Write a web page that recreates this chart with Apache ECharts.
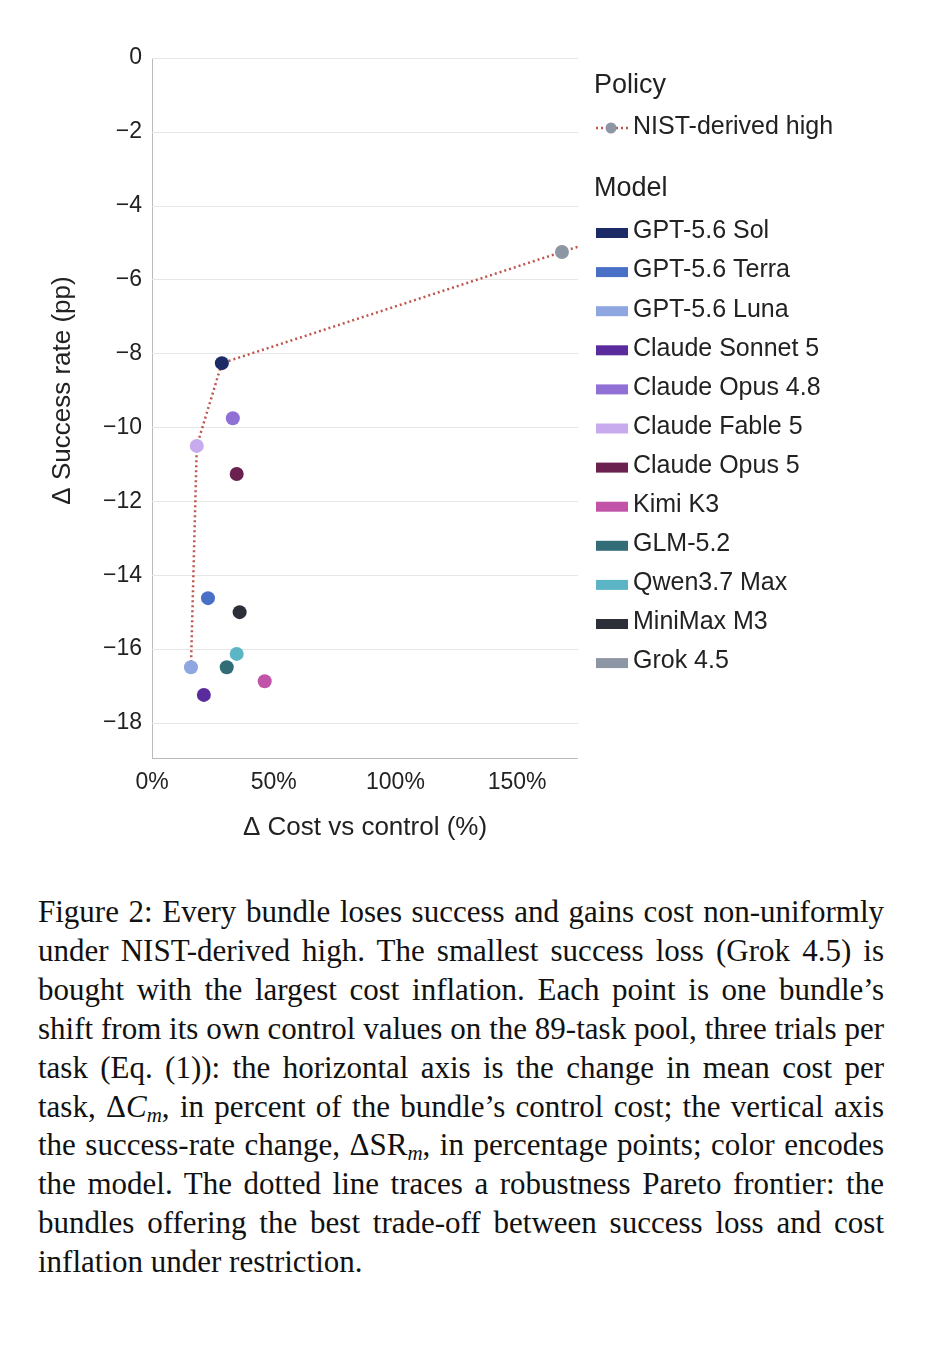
<!DOCTYPE html>
<html><head><meta charset="utf-8">
<script src="https://cdn.jsdelivr.net/npm/echarts@6/dist/echarts.min.js"></script>
<style>
body{margin:0;background:#fff;width:926px;height:1356px;position:relative;overflow:hidden}
#c{position:absolute;left:0;top:0;width:926px;height:870px}
#cap{position:absolute;left:38px;top:893px;width:846px;font-family:"Liberation Serif","DejaVu Serif",serif;font-size:31px;line-height:38.9px;text-align:justify;color:#111}
#cap sub{font-size:21px;line-height:0;vertical-align:-5px}
</style></head><body>
<div id="c"></div>
<div id="cap">Figure 2: Every bundle loses success and gains cost non-uniformly under NIST-derived high. The smallest success loss (Grok 4.5) is bought with the largest cost inflation. Each point is one bundle’s shift from its own control values on the 89-task pool, three trials per task (Eq. (1)): the horizontal axis is the change in mean cost per task, Δ<i>C<sub>m</sub></i>, in percent of the bundle’s control cost; the vertical axis the success-rate change, ΔSR<sub><i>m</i></sub>, in percentage points; color encodes the model. The dotted line traces a robustness Pareto frontier: the bundles offering the best trade-off between success loss and cost inflation under restriction.</div>
<script>
const models = ["GPT-5.6 Sol","GPT-5.6 Terra","GPT-5.6 Luna","Claude Sonnet 5","Claude Opus 4.8","Claude Fable 5","Claude Opus 5","Kimi K3","GLM-5.2","Qwen3.7 Max","MiniMax M3","Grok 4.5"];
const colors = ["#1c2a66","#4a6fc7","#8ea7e0","#5a2b9c","#9170d6","#c8abee","#6a2150","#c154a8","#326c76","#5cb5c4","#2c2f37","#8d96a4"];
const costPct = [28.7,23.0,16.0,21.3,33.2,18.4,34.8,46.3,30.7,34.8,36.0,168.4];
const successPP = [-8.26,-14.62,-16.49,-17.24,-9.75,-10.5,-11.26,-16.87,-16.49,-16.13,-15.0,-5.25];
const frontier = ["GPT-5.6 Luna","Claude Fable 5","GPT-5.6 Sol","Grok 4.5"];
const xMax = 175;

const fr = frontier.map(n=>{const i=models.indexOf(n);return [costPct[i],successPP[i]];});
const a=fr[fr.length-2], b=fr[fr.length-1];
fr.push([xMax, b[1]+(xMax-b[0])*(b[1]-a[1])/(b[0]-a[0])]);

const chart = echarts.init(document.getElementById('c'));
const font = "Helvetica, 'Liberation Sans', Arial, sans-serif";
const series = [{type:'line',data:fr,showSymbol:false,lineStyle:{color:'#c0544e',type:[2,3],width:2.5},z:1,silent:true}];
models.forEach((m,i)=>series.push({type:'scatter',name:m,data:[[costPct[i],successPP[i]]],symbolSize:14,itemStyle:{color:colors[i],opacity:1},z:3}));

const g=[];
// axis lines extended below the -18 gridline
g.push({type:'line',shape:{x1:152.5,y1:58,x2:152.5,y2:758},style:{stroke:'#bbb',lineWidth:1}});
g.push({type:'line',shape:{x1:152,y1:758.5,x2:578,y2:758.5},style:{stroke:'#bbb',lineWidth:1}});
g.push({type:'text',left:594,top:72,style:{text:'Policy',font:'27px '+font,fill:'#222'}});
g.push({type:'line',shape:{x1:596,y1:128,x2:628,y2:128},style:{stroke:'#c0544e',lineWidth:2.5,lineDash:[2,3]}});
g.push({type:'circle',shape:{cx:611,cy:128,r:5.5},style:{fill:'#8d96a4'}});
g.push({type:'text',left:633,top:115,style:{text:'NIST-derived high',font:'25px '+font,fill:'#222'}});
g.push({type:'text',left:594,top:175,style:{text:'Model',font:'27px '+font,fill:'#222'}});
models.forEach((m,i)=>{
  const y=233+i*39.1;
  g.push({type:'rect',shape:{x:596,y:y-5,width:32,height:10},style:{fill:colors[i]}});
  g.push({type:'text',left:633,top:y-14,style:{text:m,font:'25px '+font,fill:'#222'}});
});

chart.setOption({
  animation:false,
  grid:{left:152,top:58,right:348,bottom:147},
  xAxis:{type:'value',min:0,max:xMax,interval:50,
    axisLine:{show:false},axisTick:{show:false},splitLine:{show:false},
    axisLabel:{formatter:v=>v+'%',fontSize:23,color:'#222',fontFamily:font,margin:48,showMaxLabel:false},
    name:'Δ Cost vs control (%)',nameLocation:'middle',nameGap:92,nameTextStyle:{fontSize:26,color:'#222',fontFamily:font}},
  yAxis:{type:'value',min:-18,max:0,interval:2,
    axisLine:{show:false},axisTick:{show:false},
    splitLine:{show:true,lineStyle:{color:'#e6e6e6'}},
    axisLabel:{formatter:v=>v<0?'−'+(-v):String(v),fontSize:23,color:'#222',fontFamily:font,margin:10},
    name:'Δ Success rate (pp)',nameLocation:'middle',nameGap:76,nameTextStyle:{fontSize:26,color:'#222',fontFamily:font}},
  series:series,
  graphic:g
});
</script></body></html>
